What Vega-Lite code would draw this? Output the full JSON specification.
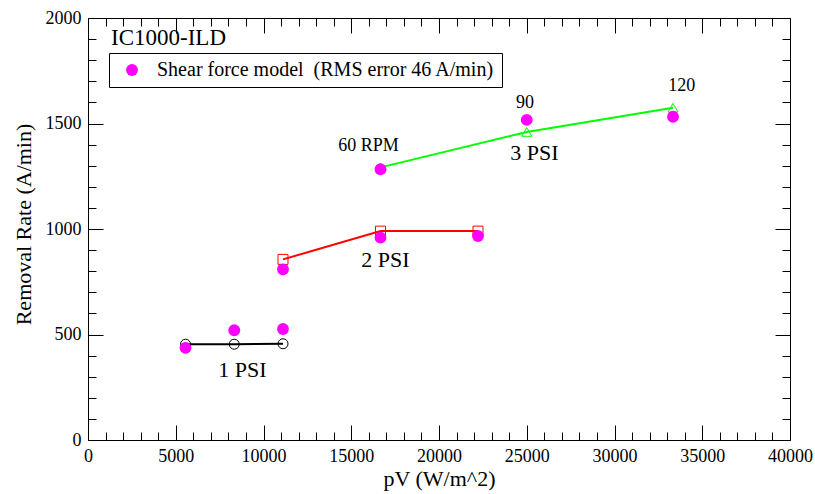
{
  "$schema": "https://vega.github.io/schema/vega-lite/v6.json",
  "width": 702,
  "height": 422,
  "autosize": {"type": "none"},
  "padding": {"left": 88, "top": 18, "right": 25, "bottom": 54},
  "background": "white",
  "config": {
    "view": {"stroke": "black", "strokeWidth": 1},
    "font": "Liberation Serif",
    "axis": {"grid": false, "domain": false, "tickColor": "black", "tickWidth": 1, "labelColor": "black", "labelFont": "Liberation Serif", "labelFontSize": 18, "titleFont": "Liberation Serif", "titleFontWeight": "normal", "titleFontSize": 22, "titleColor": "black", "labelFlush": false, "labelOverlap": false}
  },
  "datasets": {
    "exp": [
      {"pv": 5556, "rate": 454, "psi": "1 PSI"},
      {"pv": 8333, "rate": 454, "psi": "1 PSI"},
      {"pv": 11111, "rate": 456, "psi": "1 PSI"},
      {"pv": 11111, "rate": 856, "psi": "2 PSI"},
      {"pv": 16667, "rate": 990, "psi": "2 PSI"},
      {"pv": 22222, "rate": 990, "psi": "2 PSI"},
      {"pv": 16667, "rate": 1292, "psi": "3 PSI"},
      {"pv": 25000, "rate": 1460, "psi": "3 PSI"},
      {"pv": 33333, "rate": 1575, "psi": "3 PSI"}
    ],
    "model": [
      {"pv": 5556, "rate": 437, "series": "Shear force model\u00a0\u00a0(RMS error 46 A/min)"},
      {"pv": 8333, "rate": 520, "series": "Shear force model\u00a0\u00a0(RMS error 46 A/min)"},
      {"pv": 11111, "rate": 526, "series": "Shear force model\u00a0\u00a0(RMS error 46 A/min)"},
      {"pv": 11111, "rate": 809, "series": "Shear force model\u00a0\u00a0(RMS error 46 A/min)"},
      {"pv": 16667, "rate": 959, "series": "Shear force model\u00a0\u00a0(RMS error 46 A/min)"},
      {"pv": 22222, "rate": 967, "series": "Shear force model\u00a0\u00a0(RMS error 46 A/min)"},
      {"pv": 16667, "rate": 1283, "series": "Shear force model\u00a0\u00a0(RMS error 46 A/min)"},
      {"pv": 25000, "rate": 1517, "series": "Shear force model\u00a0\u00a0(RMS error 46 A/min)"},
      {"pv": 33333, "rate": 1532, "series": "Shear force model\u00a0\u00a0(RMS error 46 A/min)"}
    ],
    "rpm": [
      {"pv": 15983, "rate": 1371, "label": "60 RPM"},
      {"pv": 24900, "rate": 1572, "label": "90"},
      {"pv": 33830, "rate": 1655, "label": "120"}
    ],
    "psi": [
      {"pv": 8803, "rate": 300, "label": "1 PSI"},
      {"pv": 16952, "rate": 821, "label": "2 PSI"},
      {"pv": 25442, "rate": 1327, "label": "3 PSI"}
    ],
    "tag": [
      {"pv": 1311, "rate": 1872, "label": "IC1000-ILD"}
    ]
  },
  "resolve": {"axis": {"x": "independent", "y": "independent"}},
  "layer": [
    {
      "data": {"name": "exp"},
      "mark": {"type": "line", "strokeWidth": 2},
      "encoding": {
        "x": {"field": "pv", "type": "quantitative", "scale": {"domain": [0, 40000], "nice": false, "zero": false},
          "axis": {"orient": "bottom", "values": [0, 5000, 10000, 15000, 20000, 25000, 30000, 35000, 40000], "format": "d", "tickSize": -15, "labelPadding": 22, "title": "pV (W/m^2)", "titleY": 38, "titleBaseline": "middle"}},
        "y": {"field": "rate", "type": "quantitative", "scale": {"domain": [0, 2000], "nice": false, "zero": false},
          "axis": {"orient": "left", "values": [0, 500, 1000, 1500, 2000], "format": "d", "tickSize": -15, "labelPadding": 22, "title": "Removal Rate (A/min)", "titleX": -65, "titleY": 206, "titleBaseline": "middle"}},
        "stroke": {"field": "psi", "type": "nominal", "scale": {"domain": ["1 PSI", "2 PSI", "3 PSI"], "range": ["black", "#ff0000", "#00ff00"]}, "legend": null}
      }
    },
    {
      "data": {"name": "exp"},
      "mark": {"type": "point", "filled": false, "strokeWidth": 1, "opacity": 1},
      "encoding": {
        "x": {"field": "pv", "type": "quantitative", "scale": {"domain": [0, 40000], "nice": false, "zero": false},
          "axis": {"orient": "bottom", "values": [1000, 2000, 3000, 4000, 6000, 7000, 8000, 9000, 11000, 12000, 13000, 14000, 16000, 17000, 18000, 19000, 21000, 22000, 23000, 24000, 26000, 27000, 28000, 29000, 31000, 32000, 33000, 34000, 36000, 37000, 38000, 39000], "tickSize": -8, "labels": false, "title": null}},
        "y": {"field": "rate", "type": "quantitative", "scale": {"domain": [0, 2000], "nice": false, "zero": false},
          "axis": {"orient": "left", "values": [100, 200, 300, 400, 600, 700, 800, 900, 1100, 1200, 1300, 1400, 1600, 1700, 1800, 1900], "tickSize": -8, "labels": false, "title": null}},
        "stroke": {"field": "psi", "type": "nominal", "scale": {"domain": ["1 PSI", "2 PSI", "3 PSI"], "range": ["black", "#ff0000", "#00ff00"]}, "legend": null},
        "shape": {"field": "psi", "type": "nominal", "scale": {"domain": ["1 PSI", "2 PSI", "3 PSI"], "range": ["circle", "square", "triangle-up"]}, "legend": null},
        "size": {"value": 100}
      }
    },
    {
      "data": {"name": "model"},
      "mark": {"type": "point", "filled": true, "opacity": 1, "shape": "circle", "size": 140},
      "encoding": {
        "x": {"field": "pv", "type": "quantitative", "scale": {"domain": [0, 40000], "nice": false, "zero": false},
          "axis": {"orient": "top", "values": [0, 5000, 10000, 15000, 20000, 25000, 30000, 35000, 40000], "tickSize": -15, "labels": false, "title": null}},
        "y": {"field": "rate", "type": "quantitative", "scale": {"domain": [0, 2000], "nice": false, "zero": false},
          "axis": {"orient": "right", "values": [0, 500, 1000, 1500, 2000], "tickSize": -15, "labels": false, "title": null}},
        "color": {"field": "series", "type": "nominal", "scale": {"range": ["#ff00ff"]},
          "legend": {"orient": "none", "legendX": 21, "legendY": 35, "title": null, "strokeColor": "black", "fillColor": "white", "padding": 7, "cornerRadius": 0, "labelFont": "Liberation Serif", "labelFontSize": 20, "labelColor": "black", "labelLimit": 600, "symbolType": "circle", "symbolSize": 140, "symbolOffset": 6, "labelOffset": 15, "symbolStrokeWidth": 0}}
      }
    },
    {
      "data": {"name": "rpm"},
      "mark": {"type": "text", "fontSize": 18, "align": "center", "baseline": "alphabetic", "color": "black", "font": "Liberation Serif"},
      "encoding": {
        "x": {"field": "pv", "type": "quantitative", "scale": {"domain": [0, 40000], "nice": false, "zero": false},
          "axis": {"orient": "top", "values": [1000, 2000, 3000, 4000, 6000, 7000, 8000, 9000, 11000, 12000, 13000, 14000, 16000, 17000, 18000, 19000, 21000, 22000, 23000, 24000, 26000, 27000, 28000, 29000, 31000, 32000, 33000, 34000, 36000, 37000, 38000, 39000], "tickSize": -8, "labels": false, "title": null}},
        "y": {"field": "rate", "type": "quantitative", "scale": {"domain": [0, 2000], "nice": false, "zero": false},
          "axis": {"orient": "right", "values": [100, 200, 300, 400, 600, 700, 800, 900, 1100, 1200, 1300, 1400, 1600, 1700, 1800, 1900], "tickSize": -8, "labels": false, "title": null}},
        "text": {"field": "label"}
      }
    },
    {
      "data": {"name": "psi"},
      "mark": {"type": "text", "fontSize": 22, "align": "center", "baseline": "alphabetic", "color": "black", "font": "Liberation Serif"},
      "encoding": {
        "x": {"field": "pv", "type": "quantitative", "scale": {"domain": [0, 40000], "nice": false, "zero": false}, "axis": null},
        "y": {"field": "rate", "type": "quantitative", "scale": {"domain": [0, 2000], "nice": false, "zero": false}, "axis": null},
        "text": {"field": "label"}
      }
    },
    {
      "data": {"name": "tag"},
      "mark": {"type": "text", "fontSize": 23, "align": "left", "baseline": "alphabetic", "color": "black", "font": "Liberation Serif"},
      "encoding": {
        "x": {"field": "pv", "type": "quantitative", "scale": {"domain": [0, 40000], "nice": false, "zero": false}, "axis": null},
        "y": {"field": "rate", "type": "quantitative", "scale": {"domain": [0, 2000], "nice": false, "zero": false}, "axis": null},
        "text": {"field": "label"}
      }
    }
  ]
}
